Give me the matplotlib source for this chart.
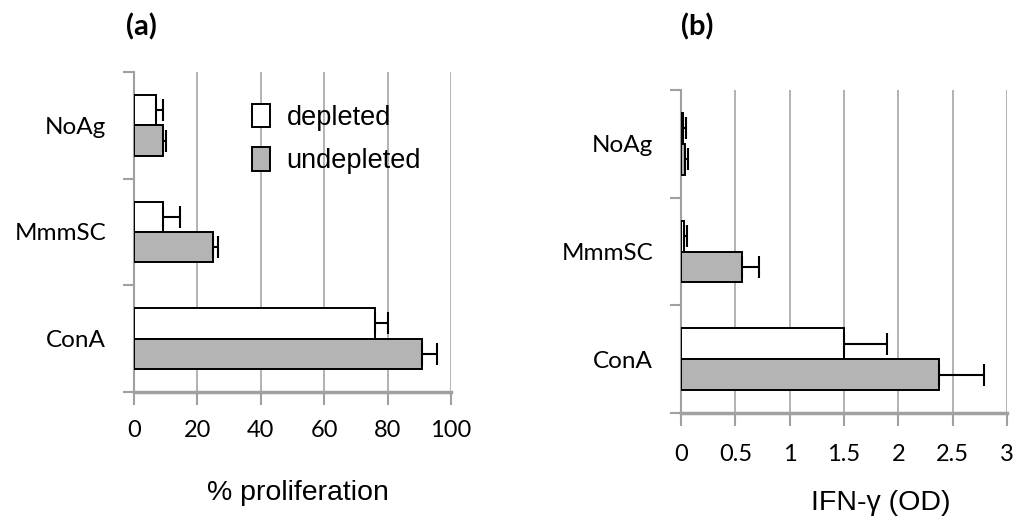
import numpy as np
import matplotlib
matplotlib.use('Agg')
import matplotlib.pyplot as plt

# ---- data ----
categories = ['NoAg', 'MmmSC', 'ConA']
series_names = ['depleted', 'undepleted']

prolif_depleted = [7, 9, 76]
prolif_depleted_err = [2, 5.5, 4]
prolif_undepleted = [9, 25, 91]
prolif_undepleted_err = [1, 1.5, 4.5]

ifn_depleted = [0.02, 0.025, 1.50]
ifn_depleted_err = [0.025, 0.03, 0.40]
ifn_undepleted = [0.04, 0.565, 2.37]
ifn_undepleted_err = [0.025, 0.155, 0.415]

prolif_ticks = [0, 20, 40, 60, 80, 100]
ifn_ticks = [0, 0.5, 1, 1.5, 2, 2.5, 3]
ifn_ticklabels = ['0', '0.5', '1', '1.5', '2', '2.5', '3']

# ---- style ----
CAL = ['Lato', 'DejaVu Sans']
ARIAL = ['Liberation Sans', 'DejaVu Sans']
GRID = '#a6a6a6'
SPINE = '#a0a0a0'
FILL_UNDEP = '#b4b4b4'
BAR_H = 0.285

W, H = 1015, 518
fig = plt.figure(figsize=(W / 100, H / 100), dpi=100)


def px_axes(l, t, r, b):
    return fig.add_axes([l / W, 1 - b / H, (r - l) / W, (b - t) / H])


def draw_panel(ax, dep, dep_err, undep, undep_err, xmax, ticks, ticklabels, xpad):
    y = np.arange(len(categories))
    zeros = [0] * len(categories)
    b1 = ax.barh(y - BAR_H / 2, dep, height=BAR_H, color='white',
                 edgecolor='black', linewidth=1.4, zorder=3, label=series_names[0])
    b2 = ax.barh(y + BAR_H / 2, undep, height=BAR_H, color=FILL_UNDEP,
                 edgecolor='black', linewidth=1.4, zorder=3, label=series_names[1])
    ax.errorbar(dep, y - BAR_H / 2, xerr=[zeros, dep_err], fmt='none',
                ecolor='black', elinewidth=1.5, capsize=8, capthick=1.5, zorder=4)
    ax.errorbar(undep, y + BAR_H / 2, xerr=[zeros, undep_err], fmt='none',
                ecolor='black', elinewidth=1.5, capsize=8, capthick=1.5, zorder=4)

    ax.set_xlim(0, xmax)
    ax.set_ylim(len(categories) - 0.5, -0.5)

    # category boundaries as major ticks, names on minor ticks (Excel style)
    ax.set_yticks(np.arange(len(categories) + 1) - 0.5)
    ax.set_yticklabels([])
    ax.set_yticks(y, minor=True)
    ax.set_yticklabels(categories, minor=True, family=CAL, fontsize=17.5)
    ax.tick_params(axis='y', which='major', length=8, width=1.5, color=SPINE)
    ax.tick_params(axis='y', which='minor', length=0, pad=20)

    ax.set_xticks(ticks)
    ax.set_xticklabels(ticklabels, family=CAL, fontsize=17)
    ax.tick_params(axis='x', length=9, width=1.5, color=SPINE, pad=xpad)

    ax.grid(axis='x', color=GRID, linewidth=1.2, zorder=0)
    ax.set_axisbelow(True)
    for s in ['top', 'right']:
        ax.spines[s].set_visible(False)
    ax.spines['left'].set_color(SPINE)
    ax.spines['left'].set_linewidth(1.5)
    ax.spines['bottom'].set_color(SPINE)
    ax.spines['bottom'].set_linewidth(2.5)
    return b1, b2


ax1 = px_axes(134, 72, 451, 392)
b1, b2 = draw_panel(ax1, prolif_depleted, prolif_depleted_err,
                    prolif_undepleted, prolif_undepleted_err,
                    100, prolif_ticks, [str(t) for t in prolif_ticks], 11)
ax1.set_xlabel('% proliferation', family=ARIAL, fontsize=20.5, va='center')
ax1.xaxis.set_label_coords((298 - 134) / 317, (392 - 493) / 320)

ax2 = px_axes(681, 90, 1007, 413)
draw_panel(ax2, ifn_depleted, ifn_depleted_err,
           ifn_undepleted, ifn_undepleted_err,
           3, ifn_ticks, ifn_ticklabels, 13)
ax2.set_xlabel('IFN-γ (OD)', family=ARIAL, fontsize=20.5, va='center')
ax2.xaxis.set_label_coords((881 - 681) / 326, (413 - 503) / 323)

leg = ax1.legend(handles=[b1, b2], loc='upper left',
                 bbox_to_anchor=(252 / W, 1 - 104 / H), bbox_transform=fig.transFigure,
                 frameon=False, prop={'family': ARIAL, 'size': 19.5},
                 handlelength=0.68, handleheight=0.95, handletextpad=0.6,
                 labelspacing=0.6, borderpad=0, borderaxespad=0)

fig.text(141 / W, 1 - 27 / H, '(a)', family=CAL, fontsize=21, fontweight='bold',
         ha='center', va='center')
fig.text(697 / W, 1 - 27 / H, '(b)', family=CAL, fontsize=21, fontweight='bold',
         ha='center', va='center')

fig.savefig('out.png', dpi=100)
